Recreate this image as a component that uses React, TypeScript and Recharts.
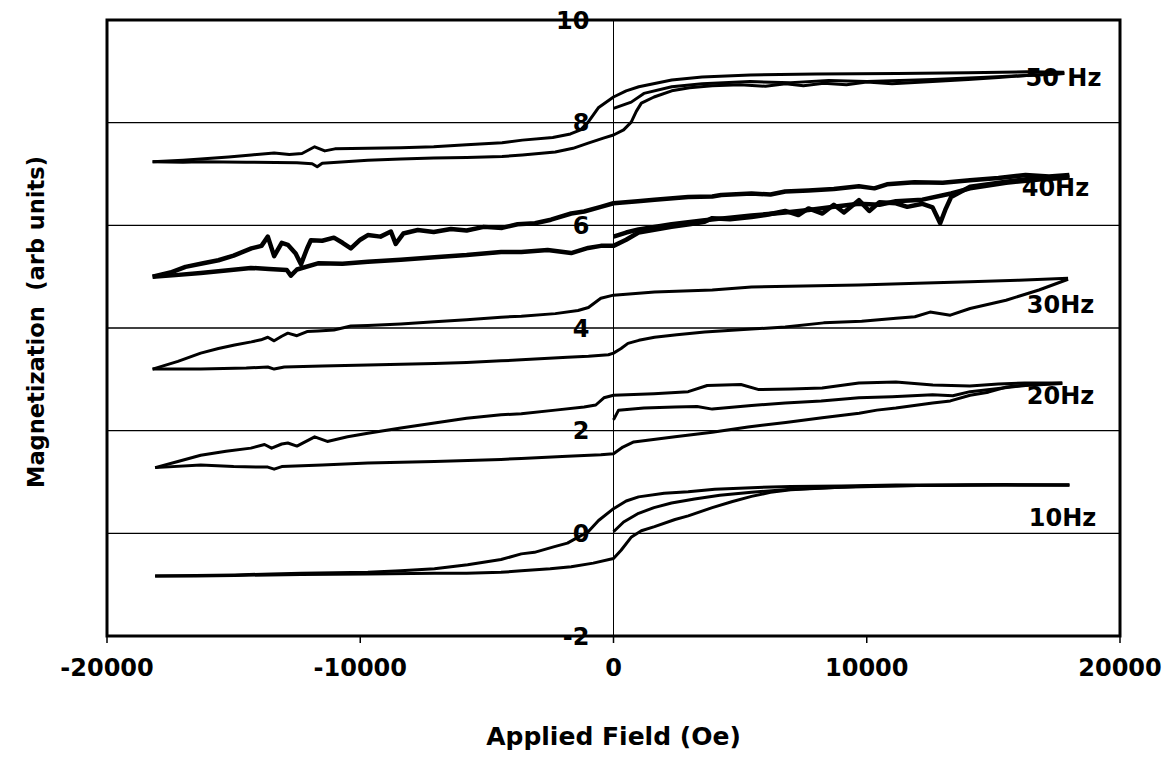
import {
  LineChart,
  Line,
  XAxis,
  YAxis,
  ReferenceLine,
  ReferenceArea,
  ReferenceDot,
} from "recharts";

type Pt = [number, number];

const fieldTicks = [-20000, -10000, 0, 10000, 20000];
const magTicks = [10, 8, 6, 4, 2, 0, -2];
const gridLevels = [8, 6, 4, 2, 0];

const loopNames = ["50 Hz", "40Hz", "30Hz", "20Hz", "10Hz"];
const loopLabelField = [17770, 17450, 17650, 17650, 17730];
const loopLabelMag = [8.88, 6.73, 4.45, 2.69, 0.3];

// 50 Hz
const hz50Down: Pt[] = [
  [-18200, 7.24], [-17000, 7.27], [-16300, 7.29], [-15200, 7.33], [-14300, 7.37],
  [-13400, 7.41], [-12800, 7.38], [-12300, 7.4], [-11800, 7.53], [-11400, 7.45],
  [-11000, 7.49], [-9700, 7.5], [-8400, 7.51], [-7100, 7.53], [-5800, 7.57],
  [-4400, 7.61], [-3600, 7.66], [-2400, 7.71], [-1700, 7.78], [-1300, 7.86],
  [-1000, 8.01], [-600, 8.29], [0, 8.5], [500, 8.62], [1000, 8.7], [2300, 8.83],
  [3500, 8.89], [5400, 8.93], [8000, 8.95], [11200, 8.96], [14000, 8.97],
  [16300, 8.99], [17800, 8.98],
];
const hz50Up: Pt[] = [
  [-18200, 7.24], [-17000, 7.23], [-16300, 7.24], [-14500, 7.23], [-12500, 7.22],
  [-11900, 7.2], [-11700, 7.14], [-11500, 7.21], [-9700, 7.27], [-8400, 7.29],
  [-7100, 7.31], [-5800, 7.32], [-4400, 7.34], [-3600, 7.37], [-2300, 7.43],
  [-1600, 7.5], [-1000, 7.6], [-400, 7.7], [0, 7.76], [400, 7.86], [700, 8.01],
  [900, 8.22], [1100, 8.38], [1600, 8.5], [2300, 8.62], [3000, 8.68], [3900, 8.72],
  [5000, 8.74], [6000, 8.71], [6800, 8.76], [7500, 8.72], [8300, 8.77], [9200, 8.74],
  [10000, 8.79], [11000, 8.76], [12600, 8.8], [14000, 8.84], [15200, 8.88],
  [16300, 8.92], [17800, 8.96],
];
const hz50Init: Pt[] = [
  [0, 8.28], [700, 8.4], [1200, 8.57], [2300, 8.7], [3500, 8.76], [5400, 8.8],
  [7000, 8.78], [8500, 8.82], [10000, 8.8], [12600, 8.84], [14500, 8.88],
  [16300, 8.92], [17800, 8.96],
];

// 40 Hz
const hz40Down: Pt[] = [
  [-18200, 5.0], [-17500, 5.08], [-16900, 5.19], [-16200, 5.26], [-15600, 5.32],
  [-15000, 5.41], [-14300, 5.55], [-13900, 5.6], [-13650, 5.78], [-13400, 5.4],
  [-13100, 5.66], [-12860, 5.62], [-12550, 5.45], [-12340, 5.24], [-12100, 5.55],
  [-11950, 5.71], [-11500, 5.7], [-11040, 5.76], [-10700, 5.66], [-10370, 5.55],
  [-10000, 5.72], [-9700, 5.81], [-9200, 5.78], [-8790, 5.88], [-8600, 5.64],
  [-8300, 5.84], [-7730, 5.91], [-7100, 5.87], [-6420, 5.93], [-5800, 5.9],
  [-5120, 5.97], [-4400, 5.95], [-3790, 6.02], [-3100, 6.04], [-2470, 6.11],
  [-1670, 6.23], [-1160, 6.27], [-500, 6.36], [0, 6.43], [960, 6.47], [1620, 6.5],
  [2950, 6.55], [3900, 6.56], [4250, 6.59], [5450, 6.62], [6200, 6.6], [6780, 6.66],
  [7700, 6.68], [8700, 6.71], [9690, 6.76], [10300, 6.72], [10800, 6.8],
  [11880, 6.84], [13000, 6.83], [14080, 6.88], [15200, 6.92], [16270, 6.98],
  [17200, 6.95], [18000, 6.98],
];
const hz40Up: Pt[] = [
  [-18200, 5.0], [-17300, 5.03], [-16300, 5.07], [-15300, 5.12], [-14320, 5.17],
  [-13600, 5.15], [-12900, 5.13], [-12740, 5.02], [-12500, 5.14], [-11670, 5.26],
  [-10700, 5.25], [-9700, 5.29], [-8400, 5.33], [-7070, 5.38], [-5800, 5.42],
  [-4440, 5.48], [-3640, 5.48], [-2600, 5.52], [-1670, 5.46], [-1000, 5.56],
  [-500, 5.6], [0, 5.6], [500, 5.72], [990, 5.86], [2290, 5.97], [3000, 6.02],
  [3600, 6.07], [3900, 6.14], [4600, 6.12], [5450, 6.16], [6000, 6.2], [6780, 6.28],
  [7300, 6.2], [7700, 6.33], [8250, 6.23], [8700, 6.4], [9100, 6.25], [9690, 6.49],
  [10100, 6.28], [10500, 6.45], [11150, 6.43], [11600, 6.36], [12200, 6.42],
  [12600, 6.35], [12900, 6.04], [13100, 6.3], [13330, 6.55], [14080, 6.75],
  [14800, 6.8], [15500, 6.85], [16300, 6.9], [17000, 6.92], [18000, 6.95],
];
const hz40Init: Pt[] = [
  [0, 5.78], [500, 5.86], [990, 5.92], [2290, 6.02], [3600, 6.1], [4600, 6.15],
  [5450, 6.19], [6780, 6.25], [7700, 6.3], [8700, 6.36], [9690, 6.42],
  [10500, 6.4], [11150, 6.47], [12200, 6.5], [13330, 6.62], [14080, 6.72],
  [15500, 6.83], [17000, 6.9], [18000, 6.93],
];

// 30 Hz
const hz30Down: Pt[] = [
  [-18200, 3.2], [-17200, 3.35], [-16300, 3.51], [-15600, 3.6], [-14960, 3.67],
  [-14300, 3.73], [-13920, 3.77], [-13650, 3.82], [-13400, 3.75], [-13100, 3.84],
  [-12860, 3.9], [-12500, 3.85], [-12100, 3.93], [-11670, 3.94], [-11040, 3.96],
  [-10370, 4.04], [-9700, 4.05], [-8400, 4.08], [-7070, 4.12], [-5800, 4.16],
  [-4440, 4.21], [-3640, 4.23], [-2300, 4.28], [-1400, 4.34], [-990, 4.4],
  [-500, 4.58], [0, 4.64], [1620, 4.7], [3900, 4.74], [5450, 4.8], [7500, 4.82],
  [9690, 4.84], [12000, 4.87], [14080, 4.9], [16000, 4.93], [17950, 4.97],
];
const hz30Up: Pt[] = [
  [-18200, 3.2], [-16300, 3.2], [-14500, 3.22], [-13650, 3.24], [-13400, 3.2],
  [-13000, 3.24], [-11500, 3.26], [-9700, 3.28], [-7070, 3.31], [-5800, 3.33],
  [-4440, 3.36], [-3640, 3.38], [-1820, 3.43], [-990, 3.45], [-200, 3.48],
  [0, 3.51], [300, 3.6], [570, 3.7], [1000, 3.76], [1620, 3.82], [2500, 3.87],
  [3600, 3.92], [5450, 3.98], [6780, 4.02], [8300, 4.1], [9800, 4.13],
  [11160, 4.19], [11900, 4.22], [12500, 4.31], [13300, 4.25], [14080, 4.38],
  [15500, 4.54], [16800, 4.74], [17950, 4.95],
];

// 20 Hz
const hz20Down: Pt[] = [
  [-18100, 1.28], [-17200, 1.4], [-16300, 1.52], [-15300, 1.6], [-14320, 1.66],
  [-13780, 1.73], [-13500, 1.66], [-13100, 1.74], [-12860, 1.76], [-12500, 1.7],
  [-11800, 1.88], [-11300, 1.79], [-10500, 1.88], [-9700, 1.95], [-8400, 2.05],
  [-7070, 2.15], [-5800, 2.24], [-4440, 2.31], [-3640, 2.33], [-2300, 2.4],
  [-1160, 2.46], [-700, 2.5], [-380, 2.64], [0, 2.69], [1600, 2.72], [2950, 2.76],
  [3700, 2.88], [5030, 2.9], [5740, 2.8], [7000, 2.81], [8240, 2.83], [9690, 2.93],
  [11150, 2.95], [12610, 2.89], [14070, 2.87], [15200, 2.91], [16240, 2.93],
  [17720, 2.93],
];
const hz20Up: Pt[] = [
  [-18100, 1.28], [-16300, 1.33], [-15000, 1.3], [-13650, 1.29], [-13400, 1.25],
  [-13100, 1.3], [-11500, 1.33], [-9700, 1.37], [-7070, 1.4], [-4440, 1.44],
  [-3640, 1.46], [-1820, 1.5], [-500, 1.53], [0, 1.55], [370, 1.68], [800, 1.78],
  [2430, 1.88], [3900, 1.97], [5310, 2.07], [6800, 2.16], [8240, 2.25],
  [9700, 2.34], [10400, 2.4], [11150, 2.44], [12600, 2.54], [13300, 2.58],
  [14080, 2.69], [14800, 2.75], [15520, 2.85], [16500, 2.9], [17720, 2.93],
];
const hz20Init: Pt[] = [
  [0, 2.21], [200, 2.4], [1200, 2.44], [2430, 2.46], [3300, 2.47], [3900, 2.42],
  [5450, 2.49], [6780, 2.54], [8200, 2.58], [9690, 2.64], [11000, 2.66],
  [12600, 2.7], [13400, 2.68], [14080, 2.76], [15200, 2.82], [16270, 2.88],
  [17720, 2.92],
];

// 10 Hz
const hz10Down: Pt[] = [
  [-18100, -0.83], [-16500, -0.82], [-14960, -0.81], [-13500, -0.79],
  [-12340, -0.78], [-11000, -0.77], [-9700, -0.76], [-8400, -0.73], [-7070, -0.69],
  [-5760, -0.61], [-4440, -0.51], [-3640, -0.4], [-3120, -0.37], [-2330, -0.26],
  [-1820, -0.19], [-1340, -0.06], [-1000, 0.03], [-590, 0.25], [0, 0.48],
  [500, 0.63], [990, 0.71], [2000, 0.78], [2950, 0.81], [4000, 0.86], [5450, 0.89],
  [7000, 0.91], [9000, 0.92], [11150, 0.94], [13500, 0.94], [15500, 0.95],
  [18000, 0.94],
];
const hz10Up: Pt[] = [
  [-18100, -0.83], [-16500, -0.83], [-14960, -0.82], [-12340, -0.8], [-9700, -0.79],
  [-7070, -0.78], [-5800, -0.78], [-4440, -0.76], [-3640, -0.73], [-2500, -0.69],
  [-1670, -0.65], [-800, -0.58], [0, -0.49], [300, -0.33], [710, -0.07],
  [1100, 0.05], [1620, 0.13], [2430, 0.27], [2950, 0.34], [3900, 0.5],
  [4700, 0.62], [5450, 0.72], [6200, 0.8], [7000, 0.85], [8500, 0.89],
  [10000, 0.92], [12000, 0.93], [14000, 0.94], [16000, 0.94], [18000, 0.94],
];
const hz10Init: Pt[] = [
  [0, 0.03], [400, 0.22], [990, 0.39], [1600, 0.5], [2290, 0.59], [3200, 0.67],
  [4200, 0.74], [5450, 0.8], [7000, 0.86], [9000, 0.9], [12000, 0.93],
  [15000, 0.94], [18000, 0.94],
];

const branches: { id: string; pts: Pt[]; w: number }[] = [
  { id: "50down", pts: hz50Down, w: 3 },
  { id: "50up", pts: hz50Up, w: 3 },
  { id: "50init", pts: hz50Init, w: 3 },
  { id: "40down", pts: hz40Down, w: 4.5 },
  { id: "40up", pts: hz40Up, w: 4.5 },
  { id: "40init", pts: hz40Init, w: 4.5 },
  { id: "30down", pts: hz30Down, w: 3 },
  { id: "30up", pts: hz30Up, w: 3 },
  { id: "20down", pts: hz20Down, w: 3 },
  { id: "20up", pts: hz20Up, w: 3 },
  { id: "20init", pts: hz20Init, w: 3 },
  { id: "10down", pts: hz10Down, w: 3 },
  { id: "10up", pts: hz10Up, w: 3 },
  { id: "10init", pts: hz10Init, w: 3 },
];

const toRows = (pts: Pt[]) => pts.map(([h, m]) => ({ h, m }));

const textStyle = { fontSize: 24, fontWeight: 700, fill: "#000" };

function YTitle({ viewBox }: any) {
  const x = viewBox.x + 16;
  const y = viewBox.y + viewBox.height / 2 - 6;
  return (
    <text
      x={x}
      y={y}
      transform={`rotate(-90, ${x}, ${y})`}
      textAnchor="middle"
      dominantBaseline="central"
      fontSize={22.5}
      fontWeight={700}
      fill="#000"
      style={{ whiteSpace: "pre" }}
    >
      Magnetization  (arb units)
    </text>
  );
}

function XTitle({ viewBox }: any) {
  return (
    <text
      x={viewBox.x + viewBox.width / 2}
      y={viewBox.y + 109}
      textAnchor="middle"
      fontSize={25}
      fontWeight={700}
      fill="#000"
    >
      Applied Field (Oe)
    </text>
  );
}

export default function App() {
  return (
    <div style={{ width: 1160, height: 745, fontFamily: "'DejaVu Sans', sans-serif", background: "#fff" }}>
      <LineChart width={1160} height={745} margin={{ top: 12, right: 48, left: 12, bottom: 57 }}>
        <XAxis
          dataKey="h"
          type="number"
          domain={[-20000, 20000]}
          ticks={fieldTicks}
          allowDataOverflow
          axisLine={false}
          tickLine={{ stroke: "#000", strokeWidth: 1.5 }}
          tickSize={7}
          tickMargin={16}
          height={60}
          tick={textStyle}
          label={{ content: XTitle }}
        />
        <YAxis
          type="number"
          domain={[-2, 10]}
          ticks={magTicks}
          allowDataOverflow
          width={87}
          tick={false}
          tickLine={false}
          axisLine={false}
          label={{ content: YTitle }}
        />
        {gridLevels.map((v) => (
          <ReferenceLine key={`g${v}`} y={v} stroke="#000" strokeWidth={1.3} />
        ))}
        <ReferenceLine x={0} stroke="#000" strokeWidth={1} />
        <ReferenceArea
          x1={-20000}
          x2={20000}
          y1={-2}
          y2={10}
          fill="none"
          fillOpacity={0}
          stroke="#000"
          strokeWidth={3}
        />
        {branches.map((b) => (
          <Line
            key={b.id}
            data={toRows(b.pts)}
            dataKey="m"
            type="linear"
            stroke="#000"
            strokeWidth={b.w}
            strokeLinejoin="round"
            dot={false}
            activeDot={false}
            isAnimationActive={false}
          />
        ))}
        {magTicks.map((v) => (
          <ReferenceDot
            key={`t${v}`}
            x={0}
            y={v}
            r={0}
            fill="none"
            stroke="none"
            label={{ value: String(v), position: "left", offset: 24, ...textStyle }}
          />
        ))}
        {loopNames.map((name, i) => (
          <ReferenceDot
            key={name}
            x={loopLabelField[i]}
            y={loopLabelMag[i]}
            r={0}
            fill="none"
            stroke="none"
            label={{ value: name, position: "center", ...textStyle }}
          />
        ))}
      </LineChart>
    </div>
  );
}
